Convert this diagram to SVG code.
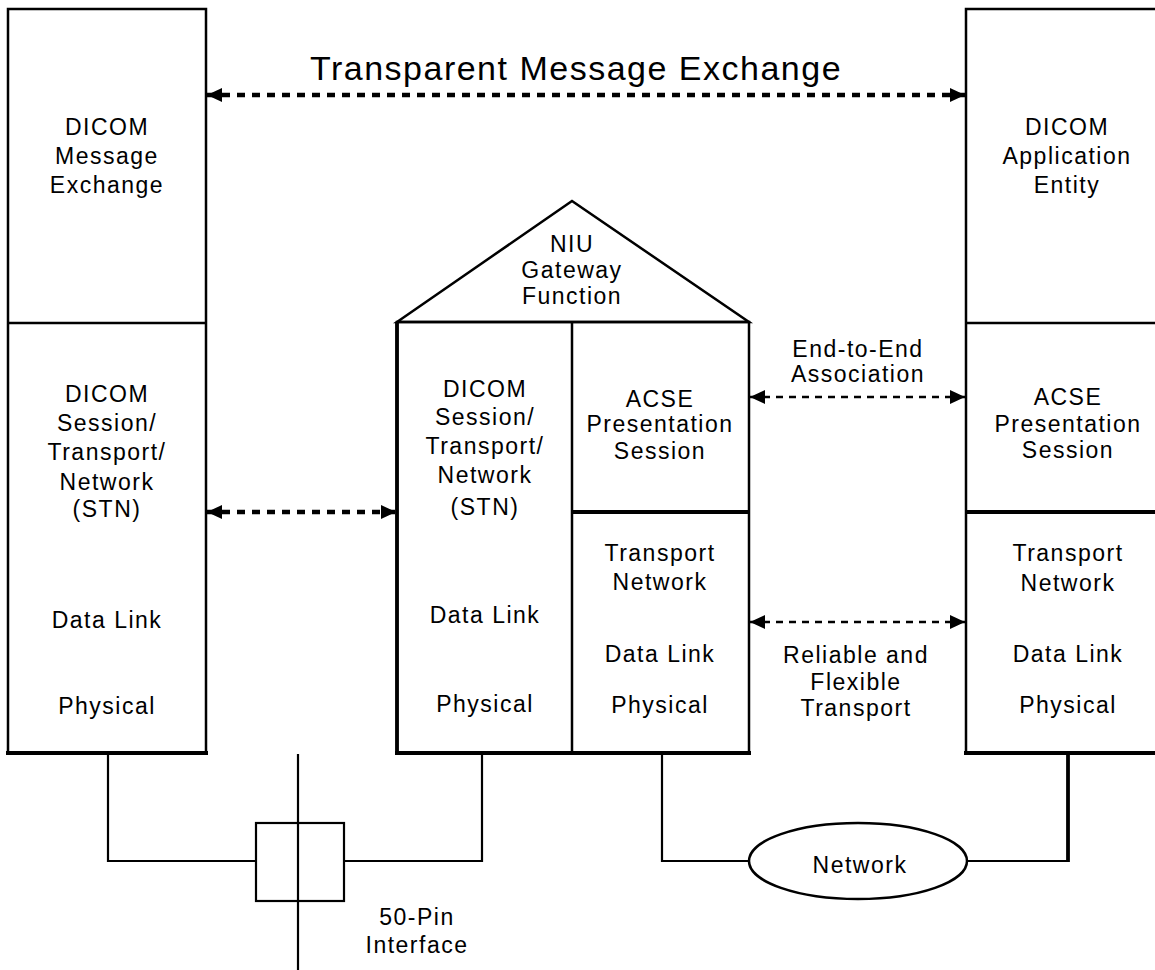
<svg xmlns="http://www.w3.org/2000/svg" width="1155" height="970" viewBox="0 0 1155 970">
<style>
text{font-family:"Liberation Sans",Arial,sans-serif;font-size:23px;letter-spacing:1.5px;text-anchor:middle;fill:#000}
.title{font-size:34px}
.b{fill:none;stroke:#000;stroke-width:2.5}
.t{fill:none;stroke:#000;stroke-width:3.8}
.w{fill:none;stroke:#000;stroke-width:2.2}
.dotA{fill:none;stroke:#000;stroke-width:4.5;stroke-dasharray:8 7}
.dotB{fill:none;stroke:#000;stroke-width:2.5;stroke-dasharray:7 6}
</style>
<defs>
<marker id="ah" markerUnits="userSpaceOnUse" markerWidth="15" markerHeight="14" refX="15" refY="7" orient="auto-start-reverse" viewBox="0 0 15 14">
<path d="M0,0 L15,7 L0,14 Z" fill="#000"/>
</marker>
</defs>
<rect width="1155" height="970" fill="#fff"/>
<text class="title" x="576" y="80">Transparent Message Exchange</text>

<g id="left-stack">
<rect class="b" x="8" y="9" width="198" height="744"/>
<line class="b" x1="8" y1="323" x2="206" y2="323"/>
<line class="t" x1="6" y1="753" x2="208" y2="753"/>
<text x="107" y="135">DICOM</text>
<text x="107" y="164">Message</text>
<text x="107" y="193">Exchange</text>
<text x="107" y="402">DICOM</text>
<text x="107" y="431">Session/</text>
<text x="107" y="460">Transport/</text>
<text x="107" y="490">Network</text>
<text x="107" y="517">(STN)</text>
<text x="107" y="628">Data Link</text>
<text x="107" y="714">Physical</text>
</g>

<g id="niu">
<polygon class="b" points="397,322 572,201 749,322"/>
<rect class="b" x="397" y="322" width="352" height="431"/>
<line class="t" x1="397" y1="322" x2="397" y2="755"/>
<line class="t" x1="395" y1="753" x2="751" y2="753"/>
<line class="b" x1="572" y1="322" x2="572" y2="753"/>
<line class="t" x1="572" y1="512" x2="749" y2="512"/>
<text x="572" y="252">NIU</text>
<text x="572" y="278">Gateway</text>
<text x="572" y="304">Function</text>
<text x="485" y="397">DICOM</text>
<text x="485" y="425">Session/</text>
<text x="485" y="454">Transport/</text>
<text x="485" y="483">Network</text>
<text x="485" y="515">(STN)</text>
<text x="485" y="623">Data Link</text>
<text x="485" y="712">Physical</text>
<text x="660" y="407">ACSE</text>
<text x="660" y="432">Presentation</text>
<text x="660" y="459">Session</text>
<text x="660" y="561">Transport</text>
<text x="660" y="590">Network</text>
<text x="660" y="662">Data Link</text>
<text x="660" y="713">Physical</text>
</g>

<g id="right-stack">
<rect class="b" x="966" y="9" width="204" height="744"/>
<line class="b" x1="966" y1="323" x2="1170" y2="323"/>
<line class="t" x1="966" y1="512" x2="1170" y2="512"/>
<line class="t" x1="964" y1="753" x2="1170" y2="753"/>
<text x="1067" y="135">DICOM</text>
<text x="1067" y="164">Application</text>
<text x="1067" y="193">Entity</text>
<text x="1068" y="405">ACSE</text>
<text x="1068" y="432">Presentation</text>
<text x="1068" y="458">Session</text>
<text x="1068" y="561">Transport</text>
<text x="1068" y="591">Network</text>
<text x="1068" y="662">Data Link</text>
<text x="1068" y="713">Physical</text>
</g>

<g id="connector-50pin">
<rect class="w" x="256" y="823" width="88" height="78"/>
<text x="417" y="925">50-Pin</text>
<text x="417" y="953">Interface</text>
</g>

<g id="network">
<ellipse class="b" cx="858" cy="861" rx="109" ry="38"/>
<text x="860" y="873">Network</text>
</g>

<g id="labels">
<text x="858" y="357">End-to-End</text>
<text x="858" y="382">Association</text>
<text x="856" y="663">Reliable and</text>
<text x="856" y="690">Flexible</text>
<text x="856" y="716">Transport</text>
</g>

<g id="connectors">
<line class="dotA" x1="207" y1="95" x2="965" y2="95" marker-start="url(#ah)" marker-end="url(#ah)"/>
<line class="dotA" x1="207" y1="512" x2="396" y2="512" marker-start="url(#ah)" marker-end="url(#ah)"/>
<line class="dotB" x1="750" y1="397" x2="965" y2="397" marker-start="url(#ah)" marker-end="url(#ah)"/>
<line class="dotB" x1="750" y1="622" x2="965" y2="622" marker-start="url(#ah)" marker-end="url(#ah)"/>
<polyline class="w" points="108,754 108,861 256,861"/>
<polyline class="w" points="344,861 482,861 482,754"/>
<line class="w" x1="298" y1="754" x2="298" y2="970"/>
<polyline class="w" points="662,754 662,861 749,861"/>
<polyline class="w" points="967,861 1068,861"/>
<line class="t" x1="1068" y1="754" x2="1068" y2="862"/>
</g>
</svg>
